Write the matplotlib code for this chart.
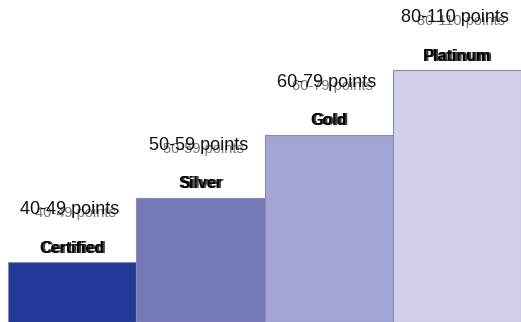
import matplotlib
matplotlib.use("Agg")
import matplotlib.pyplot as plt

tiers = ["Certified", "Silver", "Gold", "Platinum"]
points = ["40-49 points", "50-59 points", "60-79 points", "80-110 points"]
levels = [1.0, 2.07, 3.12, 4.2]
colors = ["#22399a", "#7679b8", "#a3a6d4", "#d0d0ea"]

plt.rcParams['font.family'] = ['Liberation Sans', 'DejaVu Sans']
fig = plt.figure(figsize=(5.21, 3.22), dpi=100)
ax = fig.add_axes([0, 0, 1, 1])
x = list(range(len(tiers)))
ax.bar(x, levels, width=1.0, color=colors, edgecolor="#8a8ca8", linewidth=0.8, zorder=2)
ax.set_xlim(-0.562, 3.498)
ax.set_ylim(0, 322 / 60)
ax.axis("off")

for i, (t, p, v) in enumerate(zip(tiers, points, levels)):
    # tier label (doubled, bold)
    ax.annotate(t, (i, v), xytext=(1.5, 10), textcoords="offset points",
                ha="center", va="center", fontsize=11.5, fontweight="bold",
                color="#444444", zorder=3)
    ax.annotate(t, (i, v), xytext=(0, 10), textcoords="offset points",
                ha="center", va="center", fontsize=11.5, fontweight="bold",
                color="#000000", zorder=4)
    # points label (large black + smaller grey underneath)
    ax.annotate(p, (i, v), xytext=(2.5, 35), textcoords="offset points",
                ha="center", va="center", fontsize=10.5,
                color="#777777", zorder=3)
    ax.annotate(p, (i, v), xytext=(-1.5, 38), textcoords="offset points",
                ha="center", va="center", fontsize=13,
                color="#111111", zorder=4)

fig.savefig("out.png", dpi=100)
